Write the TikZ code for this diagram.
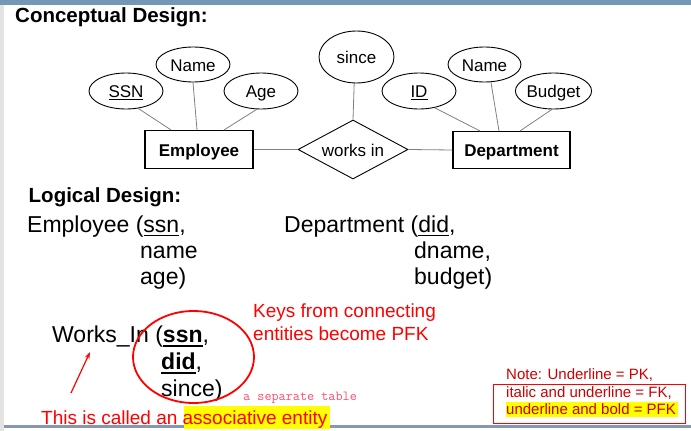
\documentclass[tikz,border=0pt]{standalone}
\usepackage{fontspec}
\setmainfont{Liberation Sans}
\usetikzlibrary{shapes.geometric,arrows.meta,calc}

\definecolor{barblue}{HTML}{7199B6}
\definecolor{railgrey}{HTML}{E3E3E3}
\definecolor{rulegrey}{HTML}{8798AE}
\definecolor{linkgrey}{HTML}{808080}
\definecolor{notered}{HTML}{CC0000}
\definecolor{pinkred}{HTML}{FF4D6D}
\definecolor{hilite}{HTML}{FFFF00}

% font size helper and underline with adjustable rule thickness
\newcommand{\fsz}[1]{\fontsize{#1}{#1}\selectfont}
\newcommand{\undr}[2][0.07em]{\vtop{\hbox{#2}\kern0.09em\hrule height #1}}

\begin{document}
\begin{tikzpicture}[x=1pt,y=-1pt,
  attr/.style={ellipse, draw, line width=0.9pt, inner sep=0, font=\fsz{17}, text height=13, text depth=0},
  entity/.style={rectangle, draw, line width=1.1pt, inner sep=0, font=\bfseries\fsz{17}, text height=13, text depth=0},
  rel/.style={diamond, draw, line width=0.9pt, inner sep=0},
  link/.style={draw=linkgrey, line width=0.8pt},
  head/.style={anchor=base west, inner sep=0, font=\bfseries\fsz{20.5}},
  txt/.style={anchor=base west, inner sep=0, font=\fsz{23}},
  redtxt/.style={anchor=base west, inner sep=0, font=\fsz{19}, text=red},
  notetxt/.style={anchor=base west, inner sep=0, font=\fsz{15}, text=notered}]
\useasboundingbox (0,0) rectangle (691,431);

% page frame
\fill[barblue] (0,0) rectangle (691,4.5);
\fill[railgrey] (0,4.5) rectangle (4,431);
\fill[rulegrey] (4,425) rectangle (691,427.5);

% headings
\node[head] (hconc) at (15,22) {Conceptual Design:};
\node[head] (hlog) at (28.5,202) {Logical Design:};

% ER diagram
\node[entity, minimum width=108, minimum height=38] (emp) at (199,149.5) {Employee};
\node[entity, minimum width=117, minimum height=37] (dept) at (511.5,150) {Department};
\node[rel, minimum width=110, minimum height=59,
      label={[font=\fsz{17}, text height=13, text depth=0, inner sep=0]center:works in}] (wi) at (353,149.5) {};

\node[attr, minimum width=74, minimum height=36] (ssn) at (126,91) {\undr[0.06em]{SSN}};
\node[attr, minimum width=74, minimum height=35] (ename) at (193,64.5) {Name};
\node[attr, minimum width=74, minimum height=36] (age) at (261,91) {Age};
\node[attr, minimum width=75, minimum height=52] (since) at (356.5,57) {since};
\node[attr, minimum width=74, minimum height=36] (did) at (419,91) {\undr[0.06em]{ID}};
\node[attr, minimum width=73, minimum height=35] (dname) at (484.5,64.5) {Name};
\node[attr, minimum width=73, minimum height=36] (budget) at (553.5,91) {Budget};

\draw[link] (ssn.-55) -- ([xshift=-28]emp.north);
\draw[link] (ename.-90) -- ([xshift=-2]emp.north);
\draw[link] (age.-103) -- ([xshift=25]emp.north);
\draw[link] (emp.east) -- (wi.west);
\draw[link] (wi.east) -- (dept.west);
\draw[link] (since.-95) -- (wi.north);
\draw[link] (did.-47) -- ([xshift=-31.5]dept.north);
\draw[link] (dname.-70) -- ([xshift=-12.5]dept.north);
\draw[link] (budget.-95) -- ([xshift=8.5]dept.north);

% relational schema
\node[txt] (empr1) at (27,232.5) {Employee (\undr{ssn},};
\node[txt] (empr2) at (140,258.5) {name};
\node[txt] (empr3) at (140,284.5) {age)};
\node[txt] (depr1) at (284,232.5) {Department (\undr{did},};
\node[txt] (depr2) at (414,258.5) {dname,};
\node[txt] (depr3) at (414,284.5) {budget)};

\node[txt] (wkr1) at (52,342.5) {Works\_In (\undr[0.11em]{\textbf{ssn}},};
\node[txt] (wkr2) at (161,369.5) {\undr[0.11em]{\textbf{did}},};
\node[txt] (wkr3) at (161,396.5) {since)};

% annotations
\node[draw=red, line width=1.8pt, ellipse, minimum width=121, minimum height=92, inner sep=0] (ring) at (193.5,357) {};
\node[redtxt] (keys1) at (253,317) {Keys from connecting};
\node[redtxt] (keys2) at (253,340) {entities become PFK};
\node[anchor=base west, inner sep=0, font=\ttfamily\fsz{13.8}, text=pinkred] (septab) at (243,400) {a separate table};

\fill[hilite] (184,406) rectangle (330,429);
\node[redtxt] (assoc) at (41,424) {This is called an associative entity};
\coordinate (arrtail) at (71,393);
\coordinate (arrtip) at (90,352);
\draw[red, line width=1.2pt, -{Stealth[length=7pt,width=5pt]}] (arrtail) -- (arrtip);

% legend
\node[draw=red, line width=1pt, minimum width=192, minimum height=39, inner sep=0] (notebox) at (589,403.5) {};
\fill[hilite] (506,402) rectangle (678,417);
\node[notetxt] (note1) at (506,379) {Note: Underline = PK,};
\node[notetxt] (note2) at (506,397) {italic and underline = FK,};
\node[notetxt] (note3) at (506,414) {underline and bold = PFK};
\end{tikzpicture}
\end{document}
